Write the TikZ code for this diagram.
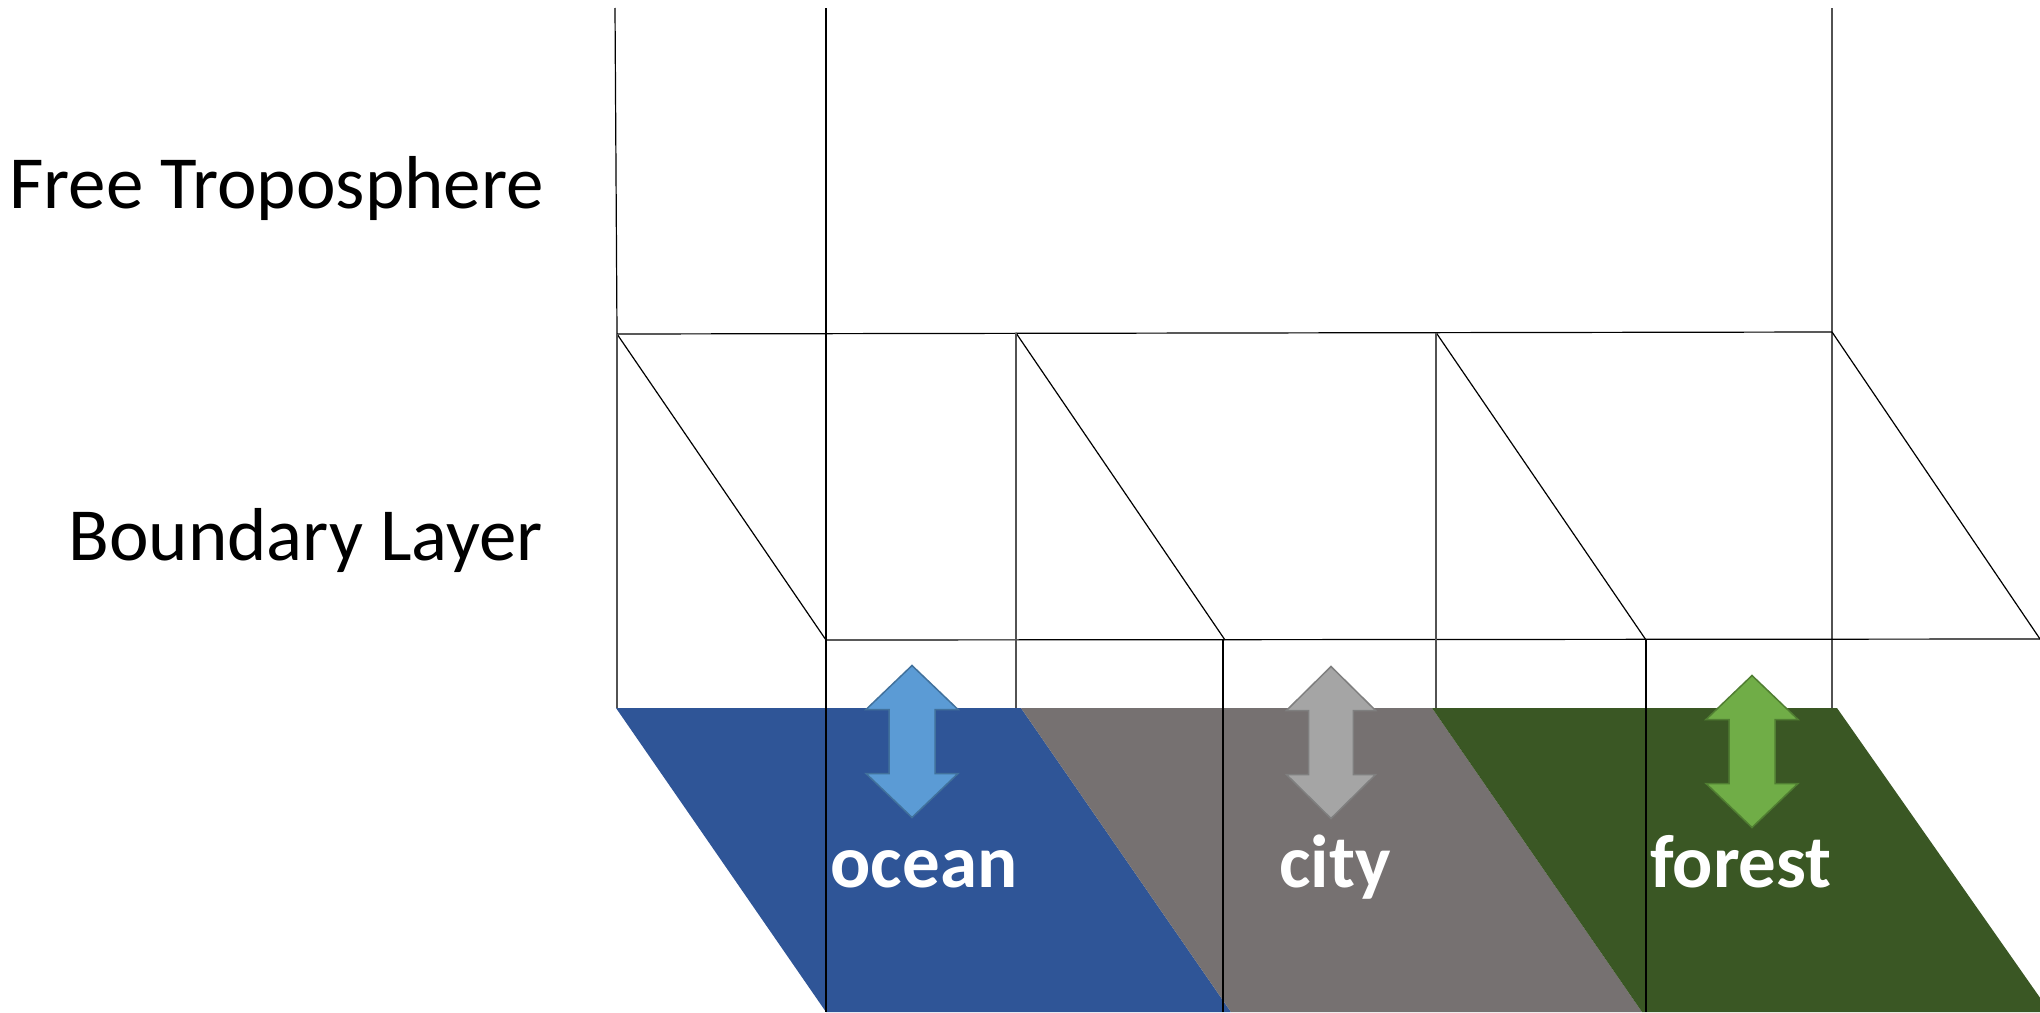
\documentclass[tikz,border=0pt]{standalone}
\usepackage{fontspec}
\setmainfont{Carlito}
\definecolor{oceanc}{HTML}{2F5597}
\definecolor{cityc}{HTML}{767171}
\definecolor{forestc}{HTML}{3A5724}
\definecolor{oceanarr}{HTML}{5B9BD5}
\definecolor{oceanarrb}{HTML}{41719C}
\definecolor{cityarr}{HTML}{A5A5A5}
\definecolor{cityarrb}{HTML}{7F7F7F}
\definecolor{forestarr}{HTML}{70AD47}
\definecolor{forestarrb}{HTML}{507E32}
\begin{document}
\begin{tikzpicture}[x=1pt,y=-1pt,
  thinline/.style={draw=black,line width=1.2pt},
  greyline/.style={draw=black!68,line width=1.8pt},
  lbl/.style={font=\fontsize{75}{82}\selectfont,inner sep=0pt},
  surflbl/.style={font=\fontsize{75}{82}\selectfont\bfseries,text=white,anchor=base,inner sep=0pt},
  duparrow/.pic={\path[pic actions] (0,-76) -- (46,-32) -- (23,-32) -- (23,32) -- (46,32) -- (0,76) -- (-46,32) -- (-23,32) -- (-23,-32) -- (-46,-32) -- cycle;}]
\useasboundingbox (0,0) rectangle (2040,1012);
\begin{scope}
\clip (0,0) rectangle (2040,1012);
% surfaces
\fill[oceanc] (616,708) -- (1021,708) -- (1231,1012) -- (826,1012) -- cycle;
\fill[cityc] (1021,708) -- (1432,708) -- (1642,1012) -- (1231,1012) -- cycle;
\fill[forestc] (1432,708) -- (1837,708) -- (2050,1012) -- (1642,1012) -- cycle;
% arrows
\pic[fill=oceanarr,draw=oceanarrb,line width=1.5pt] at (912,741.5) {duparrow};
\pic[fill=cityarr,draw=cityarrb,line width=1.5pt,xscale=0.97] at (1331,742.5) {duparrow};
\pic[fill=forestarr,draw=forestarrb,line width=1.5pt] at (1752,751.5) {duparrow};
% coordinates
\coordinate (t1) at (615,8);
\coordinate (t2) at (826,8);
\coordinate (t3) at (1832,8);
\coordinate (u1) at (617,334);
\coordinate (u2) at (826,333.5);
\coordinate (u3) at (1016,333);
\coordinate (u4) at (1436,332.5);
\coordinate (u5) at (1832,332);
\coordinate (l1) at (826,640);
\coordinate (l2) at (1225,640);
\coordinate (l3) at (1646,640);
\coordinate (l4) at (2040,639);
% frame lines
\draw[thinline] (t1) -- (u1);
\draw[thinline] (t2) -- (826,1012);
\draw[greyline] (t3) -- (1832,708);
\draw[thinline] (u1) -- (u5);
\draw[thinline] (l1) -- (l4);
\draw[thinline] (u1) -- (l1);
\draw[thinline] (u3) -- (l2);
\draw[thinline] (u4) -- (l3);
\draw[thinline] (u5) -- (l4);
\draw[greyline] (u1) -- (617,708);
\draw[greyline] (u3) -- (1016,708);
\draw[greyline] (u4) -- (1436,708);
\draw[thinline] (1223,640) -- (1223,1012);
\draw[thinline] (l3) -- (1646,1012);
\end{scope}
% labels
\node[lbl,anchor=base east] (ft) at (544,208) {Free Troposphere};
\node[lbl,anchor=base east] (bl) at (543,560) {Boundary Layer};
\node[surflbl] (ocean) at (924,887) {ocean};
\node[surflbl] (city) at (1335,887) {city};
\node[surflbl] (forest) at (1741,887) {forest};
\end{tikzpicture}
\end{document}
